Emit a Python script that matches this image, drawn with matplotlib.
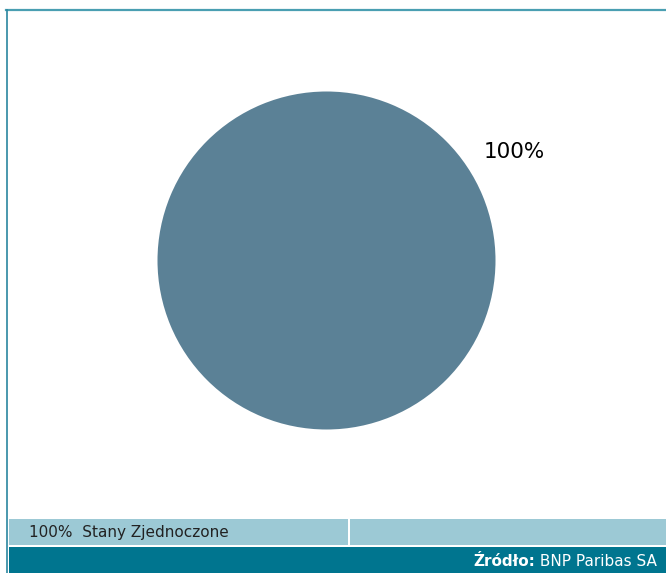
import matplotlib
matplotlib.use("Agg")
import matplotlib.pyplot as plt
from matplotlib.patches import Rectangle
from matplotlib.lines import Line2D

W, H = 666, 573

# Data
categories = ["Stany Zjednoczone"]
values = [100]
source_bold = "Źródło:"
source_text = " BNP Paribas SA"

# Theme
PIE_COLOR = "#5b8196"
BORDER = "#4a9fb2"
STRIP = "#9cc9d5"
FOOTER = "#00758f"

plt.rcParams["font.family"] = ["DejaVu Sans"]


def px(x, y):
    """Pixel (from top-left) to figure fraction."""
    return x / W, 1 - y / H


fig = plt.figure(figsize=(W / 100, H / 100), dpi=100)
fig.set_facecolor("white")

# ── Pie ──
cx, cy, r = 326.5, 260.5, 169
ax = fig.add_axes([(cx - r) / W, (H - cy - r) / H, 2 * r / W, 2 * r / H])
ax.pie(values, colors=[PIE_COLOR], startangle=210, autopct="%d%%",
       pctdistance=1.28, textprops=dict(fontsize=15.5, color="black"),
       wedgeprops=dict(linewidth=0))
ax.set_xlim(-1, 1)
ax.set_ylim(-1, 1)
ax.axis("off")

# ── Frame ──
fig.add_artist(Line2D([px(6, 0)[0], 1], [px(0, 10)[1]] * 2, color=BORDER, lw=1.6))
fig.add_artist(Line2D([px(7, 0)[0]] * 2, [px(0, 10)[1], 0], color="#2a86a0", lw=1.2))

# ── Legend strip ──
x0, y0 = px(9, 545)
fig.add_artist(Rectangle((x0, y0), 1 - x0, 26 / H, transform=fig.transFigure,
                         color=STRIP, lw=0))
fig.add_artist(Rectangle(px(348, 545), 2 / W, 26 / H, transform=fig.transFigure,
                         color="white", lw=0))
for cat, v in zip(categories, values):
    fig.text(*px(29, 532), f"{v}%  {cat}", fontsize=11, color="#222222",
             va="center", ha="left")

# ── Footer ──
fig.add_artist(Rectangle(px(9, 573), 1 - x0, 26 / H, transform=fig.transFigure,
                         color=FOOTER, lw=0))
t = fig.text(*px(657, 561), source_text, fontsize=11, color="white",
             va="center", ha="right")
renderer = fig.canvas.get_renderer()
bb = t.get_window_extent(renderer)
fig.text(bb.x0 / W, 1 - 561 / H, source_bold, fontsize=11, color="white",
         fontweight="bold", va="center", ha="right")

fig.savefig("out.png", dpi=100, facecolor="white")
